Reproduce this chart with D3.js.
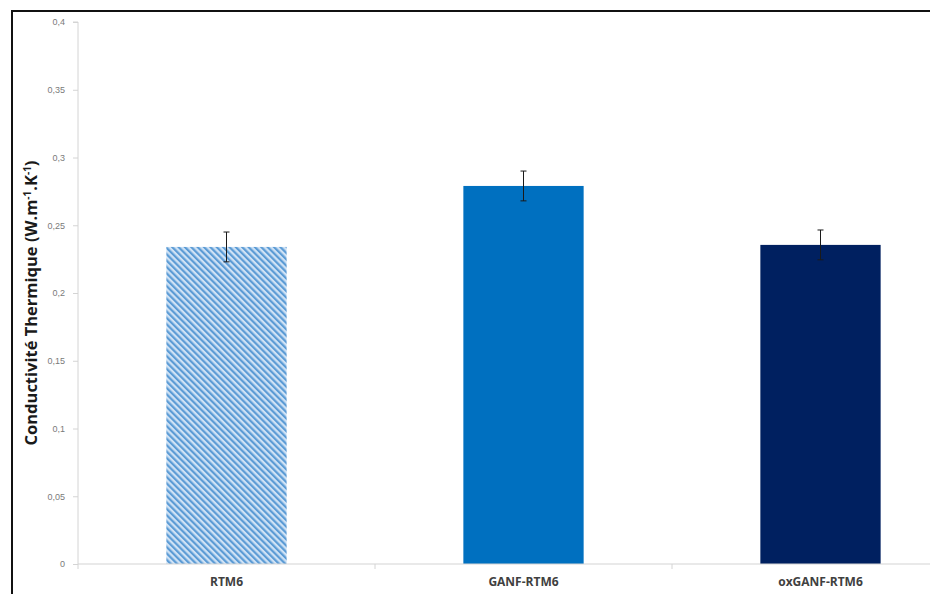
<!DOCTYPE html>
<html><head><meta charset="utf-8">
<script src="https://cdn.jsdelivr.net/npm/d3@7"></script>
<style>
body{margin:0;background:#fff;}
svg{display:block;font-family:"Open Sans","Liberation Sans",sans-serif;}
</style></head>
<body>
<script>
const categories = ["RTM6", "GANF-RTM6", "oxGANF-RTM6"];
const values = [0.234, 0.279, 0.2355];
const errors = [0.011, 0.011, 0.011];
const yTicks = [0, 0.05, 0.1, 0.15, 0.2, 0.25, 0.3, 0.35, 0.4];
const yTickLabels = ["0", "0,05", "0,1", "0,15", "0,2", "0,25", "0,3", "0,35", "0,4"];

const W = 930, H = 594;
const svg = d3.select("body").append("svg").attr("width", W).attr("height", H);

const defs = svg.append("defs");
const pat = defs.append("pattern").attr("id", "hatch").attr("patternUnits", "userSpaceOnUse")
  .attr("width", 4.5).attr("height", 4.5).attr("patternTransform", "rotate(-45)");
pat.append("rect").attr("width", 4.5).attr("height", 4.5).attr("fill", "#cfe2f5");
pat.append("rect").attr("x", 0).attr("width", 2.2).attr("height", 4.5).attr("fill", "#5b9bd5");

// frame
svg.append("rect").attr("x", 12).attr("y", 11).attr("width", 940).attr("height", 620)
  .attr("fill", "none").attr("stroke", "#111").attr("stroke-width", 2);

const x0 = 78, x1 = 969, yTop = 22, yBot = 564;
const x = d3.scaleBand().domain(categories).range([x0, x1]).paddingInner(0.595).paddingOuter(0.2975);
const y = d3.scaleLinear().domain([0, 0.4]).range([yBot, yTop]);

const fills = ["url(#hatch)", "#0070c0", "#002060"];

// y axis
const yAxis = d3.axisLeft(y).tickValues(yTicks).tickFormat((d, i) => yTickLabels[i]).tickSize(5).tickPadding(8);
const gy = svg.append("g").attr("transform", `translate(${x0},0)`).call(yAxis);
gy.select(".domain").attr("stroke", "#d4d4d4").attr("d", `M-5,${yTop}H0V${yBot}`);
gy.selectAll(".tick line").attr("stroke", "#d4d4d4");
gy.selectAll(".tick text").attr("fill", "#7a7a7a").attr("font-size", 9);

// bars
svg.append("g").selectAll("rect").data(categories).join("rect")
  .attr("x", d => x(d)).attr("width", x.bandwidth())
  .attr("y", (d, i) => y(values[i])).attr("height", (d, i) => y(0) - y(values[i]))
  .attr("fill", (d, i) => fills[i]);

// x axis
const gx = svg.append("g").attr("transform", `translate(0,${yBot})`);
gx.append("line").attr("x1", x0).attr("x2", x1).attr("stroke", "#d4d4d4").attr("stroke-width", 1.2);
const step = x.step();
gx.selectAll("line.sep").data(d3.range(categories.length + 1)).join("line").attr("class", "sep")
  .attr("x1", i => x0 + i * step).attr("x2", i => x0 + i * step).attr("y1", 0).attr("y2", 5)
  .attr("stroke", "#d4d4d4");
gx.selectAll("text").data(categories).join("text")
  .attr("x", d => x(d) + x.bandwidth() / 2).attr("y", 22)
  .attr("text-anchor", "middle").attr("font-size", 12).attr("font-weight", "bold").attr("fill", "#404040")
  .text(d => d);

// error bars
const eg = svg.append("g").attr("stroke", "#1a1a1a").attr("stroke-width", 1);
categories.forEach((c, i) => {
  const cx = x(c) + x.bandwidth() / 2;
  eg.append("line").attr("x1", cx).attr("x2", cx).attr("y1", y(values[i] + errors[i])).attr("y2", y(values[i] - errors[i]));
  eg.append("line").attr("x1", cx - 3).attr("x2", cx + 3).attr("y1", y(values[i] + errors[i])).attr("y2", y(values[i] + errors[i]));
  eg.append("line").attr("x1", cx - 3).attr("x2", cx + 3).attr("y1", y(values[i] - errors[i])).attr("y2", y(values[i] - errors[i]));
});

// y title
const t = svg.append("text").attr("transform", `translate(37,${(yTop + yBot) / 2 + 10}) rotate(-90)`)
  .attr("text-anchor", "middle").attr("font-size", 16.5).attr("font-weight", "bold").attr("fill", "#1a1a1a");
t.append("tspan").text("Conductivité Thermique (W.m");
t.append("tspan").attr("font-size", 10).attr("dy", -6).text("-1");
t.append("tspan").attr("dy", 6).text(".K");
t.append("tspan").attr("font-size", 10).attr("dy", -6).text("-1");
t.append("tspan").attr("dy", 6).text(")");
</script>
</body></html>
